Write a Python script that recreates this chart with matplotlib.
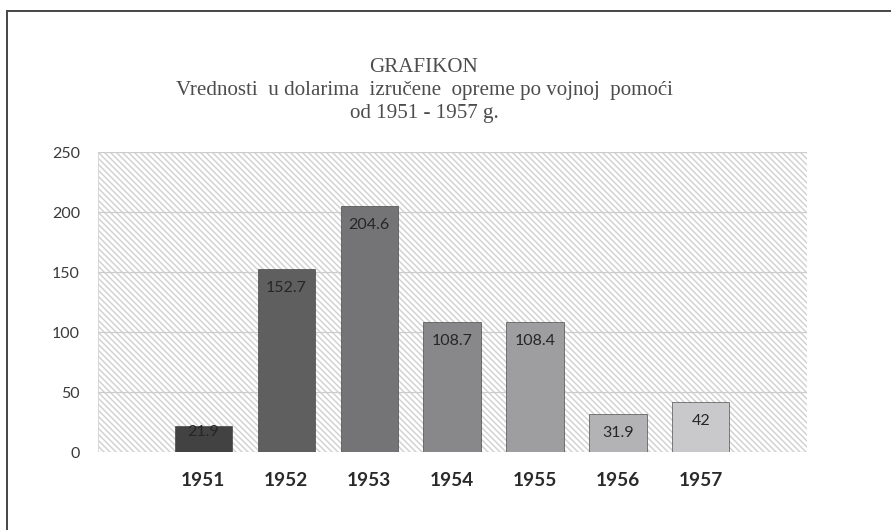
import numpy as np
import matplotlib.pyplot as plt
from matplotlib.patches import Rectangle
from matplotlib.lines import Line2D

# podaci
years = ['1951', '1952', '1953', '1954', '1955', '1956', '1957']
values = [21.9, 152.7, 204.6, 108.7, 108.4, 31.9, 42]
bar_colors = ['#424242', '#5f5f5f', '#747476', '#88888a', '#9e9ea0', '#b3b3b5', '#c9c9cb']
label_text = ['21.9', '152.7', '204.6', '108.7', '108.4', '31.9', '42']
yticks = [0, 50, 100, 150, 200, 250]

title_lines = ['GRAFIKON',
               'Vrednosti  u dolarima  izručene  opreme po vojnoj  pomoći',
               'od 1951 - 1957 g.']

plt.rcParams['hatch.linewidth'] = 1.4
plt.rcParams['hatch.color'] = '#d0d0d0'

DPI = 72
fig = plt.figure(figsize=(891 / DPI, 530 / DPI), dpi=DPI)
fig.patch.set_facecolor('white')

# okvir slike (gore i levo)
fig.add_artist(Line2D([7 / 891, 1], [1 - 11 / 530, 1 - 11 / 530], color='#4a4a4a', lw=2))
fig.add_artist(Line2D([7 / 891, 7 / 891], [0, 1 - 11 / 530], color='#4a4a4a', lw=2))

ax = fig.add_axes([98 / 891, 1 - 452 / 530, 709 / 891, 300 / 530])
ax.set_facecolor('white')

# srafirana pozadina
bg = Rectangle((0, 0), 1, 1, transform=ax.transAxes, facecolor='white',
               edgecolor='#d0d0d0', hatch='\\\\\\\\', lw=0.8, zorder=0)
ax.add_patch(bg)

x = np.arange(len(years))
bars = ax.bar(x, values, width=0.69, color=bar_colors, edgecolor='#3a3a3a',
              linewidth=0.6, zorder=3)

for xi, v, t in zip(x, values, label_text):
    # natpis unutar vrha stubca; kod niskog stubca ide preko ivice
    off = -19 if v > 30 else -6
    ax.annotate(t, (xi, v), xytext=(0, off), textcoords='offset points',
                ha='center', va='center', fontsize=16, family='Lato',
                color='#262626', zorder=4)

ax.set_xlim(-1.27, 7.28)
ax.set_ylim(0, 250)
ax.set_yticks(yticks)
ax.set_yticklabels([str(t) for t in yticks], family='Lato', fontsize=16, color='#3a3a3a')
ax.set_xticks(x)
ax.set_xticklabels(years, family='Lato', fontweight='bold', fontsize=19, color='#2a2a2a')
ax.tick_params(axis='both', length=0)
ax.tick_params(axis='y', pad=18)
ax.tick_params(axis='x', pad=20)
ax.yaxis.grid(True, color='#cccccc', lw=1.2, zorder=1)
ax.set_axisbelow(True)
for s in ax.spines.values():
    s.set_visible(False)

ty = [68, 90, 113]
for line, yy in zip(title_lines, ty):
    fig.text(424 / 891, 1 - yy / 530, line, ha='center', va='center',
             family='Liberation Serif', fontsize=21, color='#4d4d4d')

fig.savefig('out.png', dpi=DPI, facecolor='white')
